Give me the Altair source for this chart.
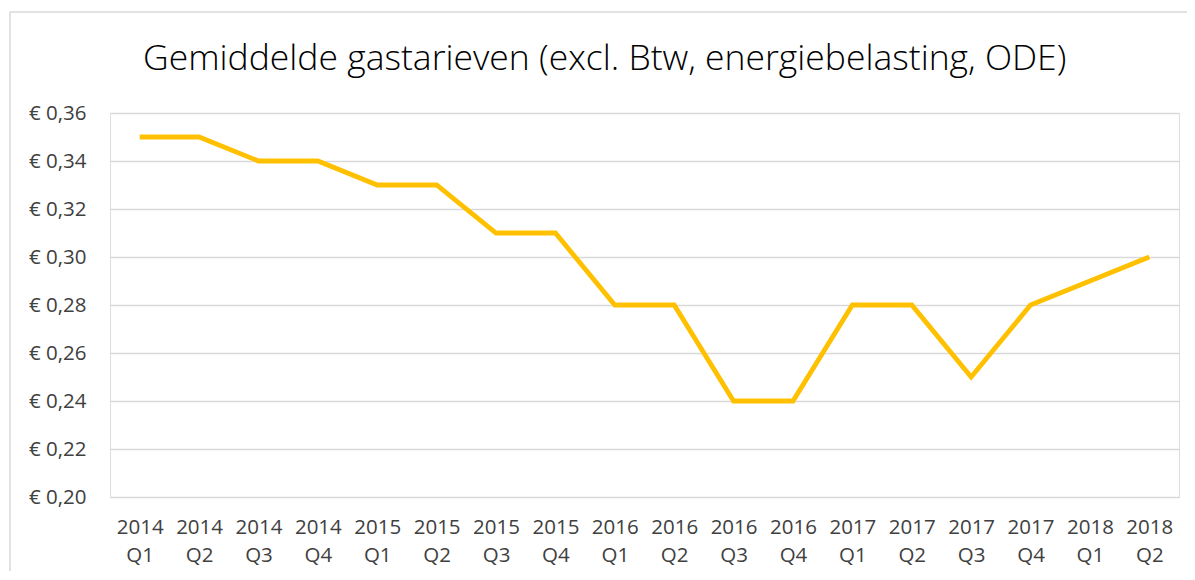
import altair as alt
import pandas as pd

title_text = "Gemiddelde gastarieven (excl. Btw, energiebelasting, ODE)"
quarters = ["2014 Q1", "2014 Q2", "2014 Q3", "2014 Q4",
            "2015 Q1", "2015 Q2", "2015 Q3", "2015 Q4",
            "2016 Q1", "2016 Q2", "2016 Q3", "2016 Q4",
            "2017 Q1", "2017 Q2", "2017 Q3", "2017 Q4",
            "2018 Q1", "2018 Q2"]
prices = [0.35, 0.35, 0.34, 0.34,
          0.33, 0.33, 0.31, 0.31,
          0.28, 0.28, 0.24, 0.24,
          0.28, 0.28, 0.25, 0.28,
          0.29, 0.30]
y_ticks = [0.20, 0.22, 0.24, 0.26, 0.28, 0.30, 0.32, 0.34, 0.36]

df = pd.DataFrame({"kwartaal": quarters, "prijs": prices})
title_df = pd.DataFrame({"t": [title_text]})

FONT = "Open Sans"
TXT = "#404040"

line = alt.Chart(df).mark_line(color="#FFC000", strokeWidth=4.8, strokeJoin="miter", strokeCap="butt").encode(
    x=alt.X("kwartaal:N", sort=quarters, title=None,
            scale=alt.Scale(type="point", padding=0.5),
            axis=alt.Axis(labelExpr="split(datum.value, ' ')", labelAngle=0,
                          labelFont=FONT, labelFontSize=20.5, labelColor=TXT,
                          labelLineHeight=28, labelPadding=20,
                          domain=False, ticks=False, grid=False,
                          labelBaseline="top")),
    y=alt.Y("prijs:Q", title=None,
            scale=alt.Scale(domain=[0.20, 0.36], nice=False, zero=False),
            axis=alt.Axis(values=y_ticks,
                          labelExpr="'€ ' + replace(format(datum.value, '.2f'), '.', ',')",
                          labelFont=FONT, labelFontSize=20.5, labelColor=TXT,
                          labelPadding=24, domain=False, ticks=False,
                          grid=True, gridColor="#d9d9d9", gridWidth=1.3)),
)

border = alt.Chart(df).mark_rect(fill="transparent", stroke="#d9d9d9", strokeWidth=1.5).encode(
    x=alt.value(-100), x2=alt.value(1100), y=alt.value(-101), y2=alt.value(480)
).transform_filter("datum.kwartaal == '2014 Q1'")

title = alt.Chart(title_df).mark_text(
    align="left", baseline="alphabetic", font=FONT, fontSize=35.5, fontWeight=300, color="#000000"
).encode(x=alt.value(33), y=alt.value(-43), text="t:N")

chart = alt.layer(border, line, title).properties(
    width=1069, height=384,
    autosize=alt.AutoSizeParams(type="none"),
    padding={"left": 102, "top": 105, "right": 8, "bottom": 74},
).configure_view(strokeWidth=0).configure(background="white")

chart.save("out.html", embed_options={"renderer": "svg", "actions": False})
